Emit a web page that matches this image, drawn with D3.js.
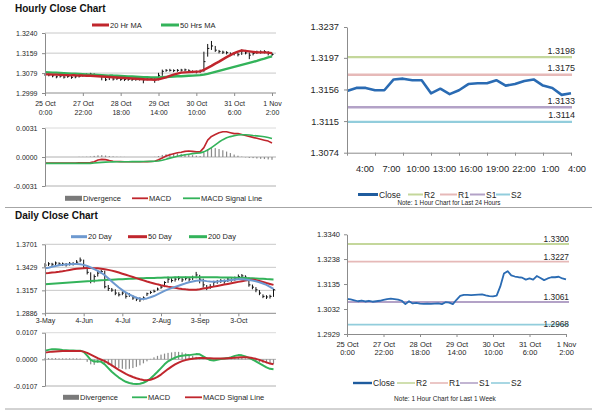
<!DOCTYPE html>
<html>
<head>
<meta charset="utf-8">
<script src="https://cdn.jsdelivr.net/npm/d3@7"></script>
<style>
  body { margin: 0; background: #fff; }
  svg text { font-family: "Liberation Sans", Arial, sans-serif; fill: #262626; }
</style>
</head>
<body>
<div id="chart"></div>
<script>
// ---- hourly data, 2 hour steps (25 Oct 0:00 -> 1 Nov 2:00) ----
let weekTicks = [['25 Oct', '0:00'], ['27 Oct', '22:00'], ['28 Oct', '18:00'], ['29 Oct', '14:00'],
  ['30 Oct', '10:00'], ['31 Oct', '6:00'], ['1 Nov', '2:00']];

let hourClose = [1.3074,1.3072,1.3068,1.3064,1.3067,1.3063,1.3066,1.3062,1.3064,1.3066,
  1.3070,1.3073,1.3075,1.3073,1.3071,1.3066,1.3052,1.3064,1.3055,1.3057,
  1.3054,1.3053,1.3054,1.3053,1.3054,1.3055,1.3052,1.3060,1.3058,1.3052,
  1.3070,1.3086,1.3090,1.3090,1.3089,1.3090,1.3091,1.3092,1.3088,1.3085,
  1.3084,1.3087,1.3125,1.3178,1.3188,1.3171,1.3166,1.3163,1.3161,1.3153,
  1.3158,1.3153,1.3168,1.3160,1.3151,1.3158,1.3163,1.3163,1.3165,1.3158,
  1.3154];
let hourHigh = [1.3079,1.3077,1.3073,1.3069,1.3071,1.3068,1.3070,1.3067,1.3069,1.3071,
  1.3075,1.3078,1.3080,1.3078,1.3075,1.3072,1.3066,1.3068,1.3061,1.3061,
  1.3059,1.3058,1.3058,1.3058,1.3059,1.3060,1.3059,1.3064,1.3063,1.3062,
  1.3080,1.3093,1.3095,1.3096,1.3094,1.3095,1.3096,1.3097,1.3094,1.3090,
  1.3089,1.3093,1.3165,1.3196,1.3208,1.3188,1.3172,1.3169,1.3167,1.3162,
  1.3163,1.3160,1.3174,1.3172,1.3162,1.3164,1.3169,1.3170,1.3171,1.3167,
  1.3161];
let hourLow = [1.3068,1.3066,1.3062,1.3058,1.3061,1.3057,1.3060,1.3056,1.3058,1.3061,
  1.3064,1.3068,1.3070,1.3068,1.3065,1.3050,1.3047,1.3051,1.3049,1.3051,
  1.3048,1.3047,1.3048,1.3047,1.3048,1.3049,1.3038,1.3050,1.3052,1.3040,
  1.3050,1.3068,1.3084,1.3085,1.3083,1.3084,1.3085,1.3086,1.3082,1.3079,
  1.3078,1.3080,1.3084,1.3145,1.3172,1.3164,1.3158,1.3156,1.3154,1.3147,
  1.3150,1.3146,1.3152,1.3154,1.3135,1.3150,1.3156,1.3157,1.3158,1.3150,
  1.3147];
let ma20h = [1.3074,1.3074,1.3073,1.3073,1.3072,1.3071,1.3071,1.3070,1.3070,1.3069,
  1.3069,1.3068,1.3068,1.3067,1.3066,1.3065,1.3064,1.3063,1.3062,1.3061,
  1.3060,1.3059,1.3058,1.3057,1.3056,1.3055,1.3054,1.3053,1.3053,1.3052,
  1.3054,1.3058,1.3062,1.3068,1.3073,1.3077,1.3081,1.3082,1.3083,1.3084,
  1.3085,1.3086,1.3092,1.3100,1.3108,1.3117,1.3125,1.3134,1.3143,1.3151,
  1.3159,1.3165,1.3170,1.3168,1.3166,1.3164,1.3162,1.3162,1.3162,1.3161,
  1.3159];
let ma50h = [1.3083,1.3082,1.3081,1.3081,1.3080,1.3079,1.3078,1.3077,1.3077,1.3076,
  1.3075,1.3074,1.3073,1.3073,1.3072,1.3071,1.3070,1.3069,1.3069,1.3068,
  1.3067,1.3066,1.3065,1.3065,1.3064,1.3063,1.3062,1.3062,1.3061,1.3061,
  1.3061,1.3062,1.3063,1.3064,1.3065,1.3066,1.3066,1.3067,1.3068,1.3069,
  1.3070,1.3071,1.3073,1.3076,1.3080,1.3084,1.3088,1.3092,1.3096,1.3100,
  1.3104,1.3108,1.3112,1.3116,1.3120,1.3124,1.3128,1.3133,1.3137,1.3142,
  1.3146];
let macdH = [-0.00064,-0.00065,-0.00065,-0.00066,-0.00066,-0.00066,-0.00065,-0.00065,-0.00064,-0.00063,
  -0.00063,-0.00062,-0.00060,-0.00050,-0.00032,-0.00025,-0.00028,-0.00038,-0.00045,-0.00048,
  -0.00049,-0.00050,-0.00050,-0.00051,-0.00051,-0.00050,-0.00050,-0.00049,-0.00048,-0.00045,
  -0.00030,-0.00010,0.00010,0.00025,0.00035,0.00045,0.00050,0.00060,0.00065,0.00060,
  0.00055,0.00055,0.00100,0.00180,0.00220,0.00240,0.00260,0.00270,0.00270,0.00260,
  0.00250,0.00250,0.00240,0.00230,0.00220,0.00210,0.00200,0.00190,0.00180,0.00170,
  0.00150];
let signalH = [-0.00068,-0.00068,-0.00068,-0.00068,-0.00068,-0.00068,-0.00068,-0.00068,-0.00068,-0.00068,
  -0.00068,-0.00068,-0.00068,-0.00064,-0.00060,-0.00057,-0.00055,-0.00053,-0.00052,-0.00051,
  -0.00050,-0.00050,-0.00050,-0.00049,-0.00049,-0.00049,-0.00048,-0.00048,-0.00047,-0.00046,
  -0.00042,-0.00034,-0.00024,-0.00012,-0.00002,0.00008,0.00016,0.00024,0.00030,0.00036,
  0.00040,0.00044,0.00055,0.00075,0.00100,0.00130,0.00160,0.00185,0.00205,0.00218,
  0.00228,0.00235,0.00238,0.00238,0.00235,0.00230,0.00226,0.00222,0.00216,0.00208,
  0.00198];
let divH = [0,0,0,0,0,0,0,0,0,0.00002,
  0.00002,0.00003,0.00005,0.00012,0.00018,0.00020,0.00016,0.00010,0.00006,0.00003,
  0.00002,0.00001,0,0,0,0,0,0,0,0.00002,
  0.00010,0.00022,0.00030,0.00036,0.00040,0.00038,0.00034,0.00030,0.00026,0.00020,
  0.00014,0.00010,0.00045,0.00085,0.00100,0.00095,0.00085,0.00072,0.00058,0.00042,
  0.00026,0.00014,0.00004,-0.00004,-0.00010,-0.00012,-0.00016,-0.00020,-0.00022,-0.00026,
  -0.00030];

// ---- last 24 hours ----
let hours24 = ['4:00', '7:00', '10:00', '13:00', '16:00', '19:00', '22:00', '1:00', '4:00'];
let close24 = [1.3154,1.3158,1.3158,1.3155,1.3155,1.3169,1.3170,1.3168,1.3168,1.3151,
  1.3157,1.3150,1.3155,1.3163,1.3164,1.3164,1.3168,1.3161,1.3163,1.3167,
  1.3169,1.3161,1.3158,1.3149,1.3151];
let levelNames = ['R2', 'R1', 'S1', 'S2'];
let levels24 = [1.3198, 1.3175, 1.3133, 1.3114];
let levelsWeek = [1.3300, 1.3227, 1.3061, 1.2968];

// ---- daily data, 2 trading day steps (3 May -> 1 Nov) ----
let dayTicks = ['3-May', '4-Jun', '4-Jul', '2-Aug', '3-Sep', '3-Oct'];
let dailyClose = [1.3455,1.3470,1.3465,1.3480,1.3470,1.3468,1.3460,1.3475,1.3472,1.3490,1.3515,
  1.3420,1.3370,1.3270,1.3320,1.3360,1.3380,1.3200,1.3180,1.3160,1.3125,
  1.3105,1.3125,1.3086,1.3105,1.3067,1.3055,1.3047,1.3067,1.3117,1.3133,
  1.3145,1.3172,1.3195,1.3250,1.3289,1.3273,1.3289,1.3300,1.3281,1.3300,
  1.3289,1.3308,1.3339,1.3289,1.3222,1.3184,1.3203,1.3250,1.3261,1.3273,
  1.3261,1.3289,1.3281,1.3300,1.3320,1.3328,1.3312,1.3222,1.3195,1.3164,
  1.3125,1.3086,1.3079,1.3086,1.3164];
let dailyHigh = [1.3478,1.3490,1.3482,1.3498,1.3488,1.3485,1.3480,1.3492,1.3490,1.3515,1.3545,
  1.3520,1.3430,1.3370,1.3345,1.3385,1.3400,1.3390,1.3220,1.3185,1.3170,
  1.3135,1.3145,1.3128,1.3125,1.3100,1.3080,1.3075,1.3085,1.3130,1.3150,
  1.3165,1.3190,1.3210,1.3265,1.3320,1.3300,1.3318,1.3325,1.3308,1.3320,
  1.3315,1.3330,1.3375,1.3340,1.3295,1.3220,1.3230,1.3270,1.3280,1.3290,
  1.3285,1.3305,1.3300,1.3320,1.3345,1.3350,1.3335,1.3310,1.3225,1.3195,
  1.3160,1.3110,1.3100,1.3105,1.3175];
let dailyLow = [1.3430,1.3445,1.3440,1.3455,1.3448,1.3445,1.3438,1.3450,1.3450,1.3468,1.3490,
  1.3410,1.3345,1.3240,1.3250,1.3320,1.3350,1.3180,1.3150,1.3140,1.3100,
  1.3085,1.3100,1.3060,1.3080,1.3045,1.3030,1.3020,1.3040,1.3090,1.3115,
  1.3130,1.3155,1.3175,1.3195,1.3245,1.3250,1.3260,1.3275,1.3255,1.3275,
  1.3260,1.3280,1.3300,1.3240,1.3190,1.3160,1.3175,1.3200,1.3235,1.3245,
  1.3235,1.3255,1.3258,1.3270,1.3290,1.3300,1.3285,1.3200,1.3170,1.3135,
  1.3100,1.3065,1.3055,1.3060,1.3080];
let ma20d = [1.3417,1.3425,1.3435,1.3445,1.3453,1.3458,1.3462,1.3465,1.3467,1.3468,1.3466,
  1.3458,1.3445,1.3428,1.3408,1.3388,1.3365,1.3335,1.3300,1.3262,1.3225,
  1.3190,1.3160,1.3132,1.3108,1.3088,1.3070,1.3058,1.3055,1.3062,1.3075,
  1.3090,1.3110,1.3130,1.3150,1.3168,1.3183,1.3198,1.3212,1.3226,1.3240,
  1.3252,1.3262,1.3270,1.3274,1.3272,1.3266,1.3261,1.3260,1.3262,1.3266,
  1.3270,1.3274,1.3279,1.3284,1.3288,1.3289,1.3286,1.3280,1.3273,1.3264,
  1.3252,1.3238,1.3222,1.3198,1.3175];
let ma50d = [1.3359,1.3363,1.3368,1.3372,1.3377,1.3383,1.3390,1.3398,1.3405,1.3411,1.3416,
  1.3419,1.3420,1.3420,1.3419,1.3417,1.3412,1.3406,1.3399,1.3390,1.3379,
  1.3367,1.3354,1.3341,1.3328,1.3315,1.3302,1.3289,1.3275,1.3262,1.3250,
  1.3239,1.3228,1.3218,1.3209,1.3201,1.3194,1.3187,1.3180,1.3174,1.3169,
  1.3165,1.3163,1.3164,1.3170,1.3178,1.3185,1.3193,1.3201,1.3209,1.3217,
  1.3225,1.3233,1.3241,1.3249,1.3257,1.3265,1.3272,1.3278,1.3281,1.3278,
  1.3268,1.3256,1.3244,1.3233,1.3222];
let ma200d = [1.3230,1.3233,1.3236,1.3239,1.3242,1.3245,1.3248,1.3251,1.3254,1.3257,1.3260,
  1.3263,1.3266,1.3268,1.3271,1.3273,1.3276,1.3278,1.3281,1.3283,1.3285,
  1.3287,1.3289,1.3291,1.3293,1.3295,1.3297,1.3299,1.3300,1.3302,1.3303,
  1.3304,1.3306,1.3307,1.3308,1.3309,1.3310,1.3311,1.3311,1.3312,1.3312,
  1.3312,1.3312,1.3312,1.3312,1.3312,1.3312,1.3311,1.3311,1.3311,1.3310,
  1.3310,1.3309,1.3308,1.3307,1.3306,1.3305,1.3303,1.3301,1.3299,1.3297,
  1.3295,1.3293,1.3290,1.3288,1.3286];
let macdD = [0.0035,0.0038,0.0041,0.0041,0.0040,0.0038,0.0037,0.0036,0.0036,0.0035,0.0035,
  0.0030,0.0015,-0.0002,-0.0009,-0.0008,-0.0010,-0.0020,-0.0035,-0.0050,-0.0062,
  -0.0073,-0.0082,-0.0090,-0.0095,-0.0098,-0.0099,-0.0098,-0.0094,-0.0087,-0.0077,
  -0.0064,-0.0050,-0.0035,-0.0020,-0.0008,0.0000,0.0007,0.0012,0.0014,0.0016,
  0.0017,0.0019,0.0021,0.0020,0.0012,0.0004,-0.0003,-0.0005,-0.0002,0.0001,
  0.0003,0.0005,0.0009,0.0014,0.0017,0.0016,0.0012,0.0006,0.0000,-0.0008,
  -0.0016,-0.0024,-0.0032,-0.0038,-0.0040];
let signalD = [0.0027,0.0029,0.0031,0.0032,0.0033,0.0034,0.0034,0.0034,0.0034,0.0034,0.0034,
  0.0031,0.0026,0.0019,0.0012,0.0005,-0.0001,-0.0007,-0.0015,-0.0024,-0.0033,
  -0.0042,-0.0050,-0.0058,-0.0065,-0.0071,-0.0076,-0.0080,-0.0083,-0.0084,-0.0082,
  -0.0077,-0.0070,-0.0061,-0.0050,-0.0039,-0.0029,-0.0020,-0.0013,-0.0007,-0.0003,
  0.0000,0.0002,0.0004,0.0005,0.0005,0.0004,0.0004,0.0003,0.0003,0.0003,
  0.0003,0.0004,0.0005,0.0006,0.0007,0.0008,0.0008,0.0007,0.0005,0.0002,
  -0.0002,-0.0007,-0.0012,-0.0017,-0.0020];
let divD = [0.0005,0.0005,0.0005,0.0005,0.0004,0.0004,0.0004,0.0004,0.0004,0.0004,0.0003,
  0.0000,-0.0010,-0.0020,-0.0022,-0.0014,-0.0010,-0.0015,-0.0022,-0.0028,-0.0032,
  -0.0035,-0.0038,-0.0040,-0.0038,-0.0035,-0.0030,-0.0024,-0.0016,-0.0008,0.0002,
  0.0008,0.0014,0.0019,0.0023,0.0026,0.0028,0.0030,0.0030,0.0028,0.0024,
  0.0019,0.0014,0.0010,0.0006,0.0002,0.0000,-0.0003,-0.0004,-0.0002,0.0000,
  0.0000,0.0001,0.0002,0.0004,0.0006,0.0006,0.0004,0.0000,-0.0004,-0.0008,
  -0.0011,-0.0014,-0.0016,-0.0018,-0.0018];

// axis tick values
let hourPriceTicks = [1.2999, 1.3079, 1.3159, 1.3240];
let hourMacdTicks = [-0.0031, 0, 0.0031];
let price24Ticks = [1.3074, 1.3115, 1.3156, 1.3197, 1.3237];
let weekPriceTicks = [1.2929, 1.3032, 1.3135, 1.3238, 1.3340];
let dailyPriceTicks = [1.2886, 1.3157, 1.3429, 1.3701];
let dailyMacdTicks = [-0.0107, 0, 0.0107];

// colours
let red = '#c0262d', green = '#33b35a', blue20 = '#6d99d0', closeBlue = '#2a6bb3';
let levelColors = ['#c4d79b', '#e6b9b8', '#b3a2c7', '#92cddc'];
let axisGray = '#8c8c8c', gridGray = '#c8c8c8';

let svg = d3.select('#chart').append('svg')
  .attr('width', 600)
  .attr('height', 413);

let fmt = d => d.toFixed(4);

function drawLine(x, y, data, color, w) {
  svg.append('path')
    .datum(data)
    .attr('fill', 'none')
    .attr('stroke', color)
    .attr('stroke-width', w)
    .attr('stroke-linejoin', 'round')
    .attr('d', d3.line().x((d, i) => x(i)).y(d => y(d)));
}

function hRule(xa, xb, yv, color, w) {
  svg.append('line')
    .attr('x1', xa).attr('x2', xb)
    .attr('y1', yv).attr('y2', yv)
    .attr('stroke', color)
    .attr('stroke-width', w);
}

function leftAxis(x0, y, ticks, fs, pad) {
  let g = svg.append('g')
    .attr('transform', `translate(${x0},0)`)
    .call(d3.axisLeft(y).tickValues(ticks).tickFormat(fmt).tickSize(3).tickSizeOuter(0).tickPadding(pad))
    .attr('font-size', fs);
  g.select('.domain').attr('stroke', axisGray);
  g.selectAll('line').attr('stroke', axisGray);
  return g;
}

function hlBars(x, y, hi, lo, cl) {
  svg.append('g').selectAll('line')
    .data(hi)
    .enter()
    .append('line')
    .attr('x1', (d, i) => x(i)).attr('x2', (d, i) => x(i))
    .attr('y1', d => y(d)).attr('y2', (d, i) => y(lo[i]))
    .attr('stroke', '#111')
    .attr('stroke-width', 1);
  svg.append('g').selectAll('line')
    .data(cl)
    .enter()
    .append('line')
    .attr('x1', (d, i) => x(i)).attr('x2', (d, i) => x(i) + 1.6)
    .attr('y1', d => y(d)).attr('y2', d => y(d))
    .attr('stroke', '#111')
    .attr('stroke-width', 1);
}

function histBars(x, y, data) {
  svg.append('g').selectAll('rect')
    .data(data)
    .enter()
    .append('rect')
    .attr('x', (d, i) => x(i) - 0.6)
    .attr('width', 1.2)
    .attr('y', d => Math.min(y(d), y(0)))
    .attr('height', d => Math.abs(y(d) - y(0)))
    .attr('fill', '#8a8a8a');
}

// legend: items have start/end of the sample line and label
function legend(items, yv, fs) {
  items.forEach(it => {
    if (it.box) {
      svg.append('rect')
        .attr('x', it.a).attr('y', yv - 2.5)
        .attr('width', it.b - it.a).attr('height', 5)
        .attr('fill', '#7a7a7a');
    } else {
      hRule(it.a, it.b, yv, it.color, it.w);
    }
    svg.append('text')
      .attr('x', it.b + 1)
      .attr('y', yv + fs * 0.36)
      .attr('font-size', fs)
      .text(it.label);
  });
}

function title(txt, yv) {
  svg.append('text')
    .attr('x', 15).attr('y', yv)
    .attr('font-size', 10)
    .attr('font-weight', 'bold')
    .style('fill', '#111')
    .text(txt);
}

// ================= Hourly Close Chart (top left) =================
title('Hourly Close Chart', 12);

let xH = d3.scaleLinear().domain([0, 60]).range([45, 272]);
let yH = d3.scaleLinear().domain([1.2999, 1.3240]).range([93, 33]);

hourPriceTicks.slice(1).forEach(t => hRule(45, 276, yH(t), gridGray, 1));
hlBars(xH, yH, hourHigh, hourLow, hourClose);
drawLine(xH, yH, ma50h, green, 2.4);
drawLine(xH, yH, ma20h, red, 2.4);

leftAxis(45, yH, hourPriceTicks, 7, 4.5);
let hb = svg.append('g')
  .attr('transform', `translate(0,${yH(1.2999)})`)
  .call(d3.axisBottom(xH).tickValues(d3.range(0, 61, 10)).tickSize(3).tickSizeOuter(0).tickFormat(''))
  .attr('font-size', 7);
hb.select('.domain').attr('d', `M45,0H276`).attr('stroke', axisGray);
hb.selectAll('line').attr('stroke', axisGray);
hb.selectAll('.tick').append('text')
  .attr('fill', '#262626')
  .attr('text-anchor', 'middle')
  .each(function(d, i) {
    let t = d3.select(this);
    t.append('tspan').attr('x', 0).attr('y', 12.5).text(weekTicks[i][0]);
    t.append('tspan').attr('x', 0).attr('y', 21.5).text(weekTicks[i][1]);
  });

legend([
  {a: 92, b: 109, color: red, w: 3, label: '20 Hr MA'},
  {a: 161, b: 179, color: green, w: 3, label: '50 Hrs MA'}
], 25, 7.5);

// hourly MACD
let yHm = d3.scaleLinear().domain([-0.0031, 0.0031]).range([186, 128]);
hRule(45, 276, yHm(0.0031), '#dadada', 1);
hRule(45, 276, yHm(0), '#b0b0b0', 1);
hRule(45, 276, yHm(-0.0031), '#b0b0b0', 1);
histBars(xH, yHm, divH);
drawLine(xH, yHm, macdH, red, 1.6);
drawLine(xH, yHm, signalH, green, 1.6);
leftAxis(45, yHm, hourMacdTicks, 7, 4.5);

legend([
  {a: 65, b: 82, box: true, label: 'Divergence'},
  {a: 132, b: 148, color: red, w: 1.8, label: 'MACD'},
  {a: 183, b: 200, color: green, w: 1.8, label: 'MACD Signal Line'}
], 198.3, 7.5);

// ================= last 24 hours (top right) =================
let x24 = d3.scaleLinear().domain([0, 24]).range([347, 571]);
let x24lab = d3.scaleLinear().domain([0, 24]).range([365, 577]);
let y24 = d3.scaleLinear().domain([1.3074, 1.3237]).range([152.7, 27]);

levels24.forEach((v, i) => {
  hRule(347, 572, y24(v), levelColors[i], 2.4);
  svg.append('text')
    .attr('x', 575).attr('y', y24(v) - 3.5)
    .attr('text-anchor', 'end')
    .attr('font-size', 9)
    .text(fmt(v));
});
drawLine(x24, y24, close24, closeBlue, 2.6);

leftAxis(347, y24, price24Ticks, 9.3, 5);
let b24 = svg.append('g')
  .attr('transform', `translate(0,${y24(1.3074)})`)
  .call(d3.axisBottom(x24).tickValues(d3.range(0, 25, 3)).tickSize(3).tickSizeOuter(0).tickFormat(''));
b24.select('.domain').attr('stroke', axisGray);
b24.selectAll('line').attr('stroke', axisGray);
svg.append('g').selectAll('text')
  .data(hours24)
  .enter()
  .append('text')
  .attr('x', (d, i) => x24lab(i * 3))
  .attr('y', 172)
  .attr('text-anchor', 'middle')
  .attr('font-size', 9.3)
  .text(d => d);

legend([
  {a: 358, b: 378, color: '#1f5c9e', w: 3, label: 'Close'},
  {a: 408, b: 423, color: levelColors[0], w: 2, label: levelNames[0]},
  {a: 440, b: 457, color: levelColors[1], w: 2, label: levelNames[1]},
  {a: 470, b: 485, color: levelColors[2], w: 2, label: levelNames[2]},
  {a: 496, b: 510, color: levelColors[3], w: 2, label: levelNames[3]}
], 194.5, 8.5);
svg.append('text')
  .attr('x', 449).attr('y', 205)
  .attr('text-anchor', 'middle')
  .attr('font-size', 6.3)
  .text('Note: 1 Hour Chart for Last 24 Hours');

// separators
hRule(5, 592, 207.5, '#a6a6a6', 1);
hRule(5, 592, 409, '#a6a6a6', 1);

// ================= Daily Close Chart (bottom left) =================
title('Daily Close Chart', 218.5);

let xD = d3.scaleLinear().domain([0, 65]).range([45, 273.5]);
let yD = d3.scaleLinear().domain([1.2886, 1.3701]).range([313.3, 244.3]);

dailyPriceTicks.slice(1).forEach(t => hRule(45, 276, yD(t), gridGray, 1));
hlBars(xD, yD, dailyHigh, dailyLow, dailyClose);
drawLine(xD, yD, ma200d, green, 2);
drawLine(xD, yD, ma50d, red, 2);
drawLine(xD, yD, ma20d, blue20, 2);

leftAxis(45, yD, dailyPriceTicks, 7, 4.5);
let db = svg.append('g')
  .attr('transform', `translate(0,${yD(1.2886)})`)
  .call(d3.axisBottom(xD).tickValues(d3.range(0, 56, 11)).tickSize(3).tickSizeOuter(0).tickFormat((d, i) => dayTicks[i]).tickPadding(2))
  .attr('font-size', 7);
db.select('.domain').attr('d', 'M45,0H276').attr('stroke', axisGray);
db.selectAll('line').attr('stroke', axisGray);

legend([
  {a: 71, b: 87, color: blue20, w: 3, label: '20 Day'},
  {a: 128, b: 147, color: red, w: 3, label: '50 Day'},
  {a: 189, b: 207, color: green, w: 3, label: '200 Day'}
], 236.7, 7.5);

// daily MACD
let yDm = d3.scaleLinear().domain([-0.0107, 0.0107]).range([386, 332.7]);
hRule(45, 276, yDm(0.0107), '#dadada', 1);
hRule(45, 276, yDm(0), '#b0b0b0', 1);
hRule(45, 276, yDm(-0.0107), '#b0b0b0', 1);
histBars(xD, yDm, divD);
drawLine(xD, yDm, macdD, green, 2);
drawLine(xD, yDm, signalD, red, 2);
leftAxis(45, yDm, dailyMacdTicks, 7, 4.5);

legend([
  {a: 63, b: 79, box: true, label: 'Divergence'},
  {a: 132, b: 147, color: green, w: 1.8, label: 'MACD'},
  {a: 185, b: 202, color: red, w: 1.8, label: 'MACD Signal Line'}
], 397.3, 7.5);

// ================= last week (bottom right) =================
let xW = d3.scaleLinear().domain([0, 60]).range([347, 566]);
let yW = d3.scaleLinear().domain([1.2929, 1.3340]).range([334, 234.3]);

levelsWeek.forEach((v, i) => {
  hRule(347, 569, yW(v), levelColors[i], 1.8);
  svg.append('text')
    .attr('x', 569).attr('y', yW(v) - (i == 3 ? -2.5 : 2))
    .attr('text-anchor', 'end')
    .attr('font-size', 8.3)
    .text(fmt(v));
});
drawLine(xW, yW, hourClose, closeBlue, 1.8);

leftAxis(347, yW, weekPriceTicks, 7.5, 4);
let wb = svg.append('g')
  .attr('transform', `translate(0,${yW(1.2929)})`)
  .call(d3.axisBottom(xW).tickValues(d3.range(0, 61, 10)).tickSize(3).tickSizeOuter(0).tickFormat(''));
wb.select('.domain').attr('stroke', axisGray);
wb.selectAll('line').attr('stroke', axisGray);
wb.selectAll('.tick').append('text')
  .attr('fill', '#262626')
  .attr('text-anchor', 'middle')
  .attr('font-size', 7.5)
  .each(function(d, i) {
    let t = d3.select(this);
    t.append('tspan').attr('x', 0).attr('y', 13).text(weekTicks[i][0]);
    t.append('tspan').attr('x', 0).attr('y', 21).text(weekTicks[i][1]);
  });

legend([
  {a: 353, b: 372, color: '#1f5c9e', w: 2.4, label: 'Close'},
  {a: 397, b: 415, color: levelColors[0], w: 1.6, label: levelNames[0]},
  {a: 430, b: 448, color: levelColors[1], w: 1.6, label: levelNames[1]},
  {a: 460, b: 478, color: levelColors[2], w: 1.6, label: levelNames[2]},
  {a: 491, b: 510, color: levelColors[3], w: 1.6, label: levelNames[3]}
], 383, 8.5);
svg.append('text')
  .attr('x', 445).attr('y', 401)
  .attr('text-anchor', 'middle')
  .attr('font-size', 6.5)
  .text('Note: 1 Hour Chart for Last 1 Week');
</script>
</body>
</html>
